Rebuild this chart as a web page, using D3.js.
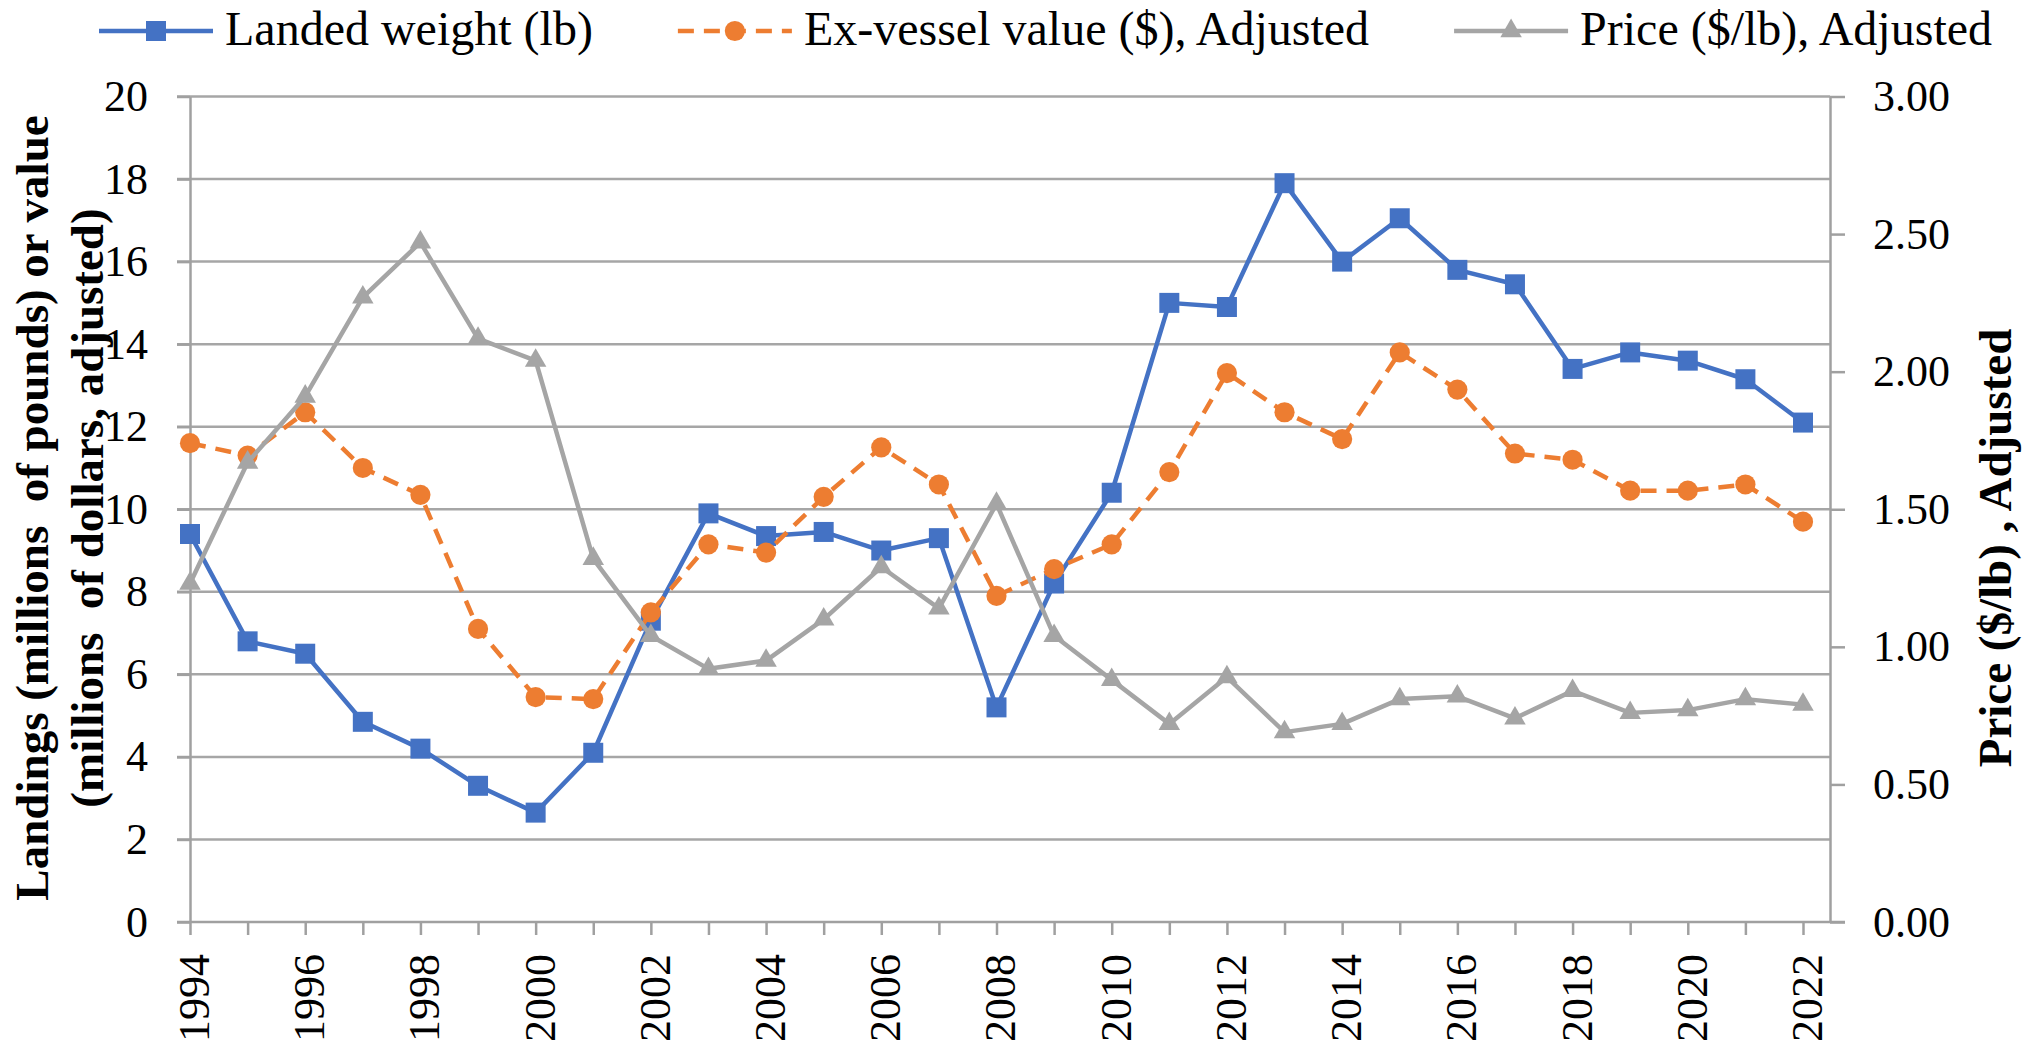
<!DOCTYPE html>
<html>
<head>
<meta charset="UTF-8">
<title>Landings, ex-vessel value and price</title>
<style>
html, body {
    margin: 0;
    padding: 0;
    background-color: #ffffff;
}
svg text {
    font-family: "Times New Roman", "Liberation Serif", serif;
    fill: #000;
}
.tick text {
    font-size: 44px;
}
.axis path, .axis line {
    stroke: #a0a0a0;
    stroke-width: 2.5;
}
.grid {
    stroke: #a6a6a6;
    stroke-width: 2.5;
}
.title {
    font-size: 47px;
    font-weight: bold;
    white-space: pre;
}
.legend text {
    font-size: 48px;
}
</style>
</head>
<body>
<svg id="chart" width="2035" height="1049"></svg>
<script src="https://cdn.jsdelivr.net/npm/d3@7/dist/d3.min.js"></script>
<script>
const years = [1994, 1995, 1996, 1997, 1998, 1999, 2000, 2001, 2002, 2003, 2004, 2005, 2006, 2007,
    2008, 2009, 2010, 2011, 2012, 2013, 2014, 2015, 2016, 2017, 2018, 2019, 2020, 2021, 2022];
const labelYears = [1994, 1996, 1998, 2000, 2002, 2004, 2006, 2008, 2010, 2012, 2014, 2016, 2018, 2020, 2022];

// millions of lb
const landed = [9.4, 6.8, 6.5, 4.85, 4.2, 3.3, 2.65, 4.1, 7.3, 9.9, 9.35, 9.45, 9.0, 9.3,
    5.2, 8.2, 10.4, 15.0, 14.9, 17.9, 16.0, 17.05, 15.8, 15.45, 13.4, 13.8, 13.6, 13.15, 12.1];
// millions of dollars, adjusted
const exValue = [11.6, 11.3, 12.35, 11.0, 10.35, 7.1, 5.45, 5.4, 7.5, 9.15, 8.95, 10.3, 11.5, 10.6,
    7.9, 8.55, 9.15, 10.9, 13.3, 12.35, 11.7, 13.8, 12.9, 11.35, 11.2, 10.45, 10.45, 10.6, 9.7];
// $/lb, adjusted (right axis)
const price = [1.23, 1.67, 1.91, 2.27, 2.47, 2.12, 2.04, 1.32, 1.04, 0.92, 0.95, 1.10, 1.29, 1.14,
    1.52, 1.04, 0.88, 0.72, 0.89, 0.69, 0.72, 0.81, 0.82, 0.74, 0.84, 0.76, 0.77, 0.81, 0.79];

const leftTicks = [0, 2, 4, 6, 8, 10, 12, 14, 16, 18, 20];
const rightTicks = [0, 0.5, 1, 1.5, 2, 2.5, 3];

const svg = d3.select('#chart');

let plotLeft = 190, plotRight = 1830, plotTop = 96.5, plotBottom = 922;

let x = d3.scaleLinear().domain([1994, 2022]).range([plotLeft, 1803]);
let yL = d3.scaleLinear().domain([0, 20]).range([plotBottom, plotTop]);
let yR = d3.scaleLinear().domain([0, 3]).range([plotBottom, plotTop]);

// gridlines
svg.append('g')
    .selectAll('line')
    .data(leftTicks.filter(d => d > 0))
    .join('line')
    .attr('class', 'grid')
    .attr('x1', plotLeft - 13)
    .attr('x2', plotRight)
    .attr('y1', d => yL(d))
    .attr('y2', d => yL(d));

// left axis
svg.append('g')
    .attr('class', 'axis')
    .attr('transform', `translate(${plotLeft},0)`)
    .call(d3.axisLeft(yL).tickValues(leftTicks).tickSize(13).tickSizeOuter(0).tickPadding(29));

// right axis
svg.append('g')
    .attr('class', 'axis')
    .attr('transform', `translate(${plotRight},0)`)
    .call(d3.axisRight(yR).tickValues(rightTicks).tickSize(15).tickSizeOuter(0).tickPadding(28)
        .tickFormat(d3.format('.2f')));

// bottom axis
let xAxis = svg.append('g')
    .attr('class', 'axis')
    .attr('transform', `translate(0,${plotBottom})`)
    .call(d3.axisBottom(x).tickValues(years).tickSize(13).tickSizeOuter(0)
        .tickFormat(d => labelYears.includes(d) ? d : ''));
xAxis.select('.domain').remove();
xAxis.append('line')
    .attr('x1', plotLeft - 13)
    .attr('x2', plotRight + 15)
    .attr('y1', 0)
    .attr('y2', 0);
xAxis.selectAll('.tick text')
    .attr('transform', 'rotate(-90)')
    .attr('x', -32)
    .attr('y', 0)
    .attr('dy', '0.42em')
    .attr('text-anchor', 'end');

// axis titles
svg.append('text')
    .attr('class', 'title')
    .attr('transform', 'translate(48,508) rotate(-90)')
    .attr('text-anchor', 'middle')
    .text('Landings (millions  of pounds) or value');
svg.append('text')
    .attr('class', 'title')
    .attr('transform', 'translate(103,508) rotate(-90)')
    .attr('text-anchor', 'middle')
    .text('(millions  of dollars, adjusted)');
svg.append('text')
    .attr('class', 'title')
    .attr('transform', 'translate(2011,548) rotate(-90)')
    .attr('text-anchor', 'middle')
    .text('Price ($/lb) , Adjusted');

// series
const series = [
    {name: 'Landed weight (lb)', values: landed, y: yL, color: '#4472C4', dash: null, sym: d3.symbolSquare, size: 400},
    {name: 'Ex-vessel value ($), Adjusted', values: exValue, y: yL, color: '#ED7D31', dash: '16,10', sym: d3.symbolCircle, size: 320},
    {name: 'Price ($/lb), Adjusted', values: price, y: yR, color: '#A5A5A5', dash: null, sym: d3.symbolTriangle, size: 200}
];

series.forEach(s => {
    let line = d3.line()
        .x((d, i) => x(years[i]))
        .y(d => s.y(d));
    let g = svg.append('g');
    g.append('path')
        .attr('d', line(s.values))
        .attr('fill', 'none')
        .attr('stroke', s.color)
        .attr('stroke-width', 4.5)
        .attr('stroke-dasharray', s.dash)
        .attr('stroke-linejoin', 'round');
    g.selectAll('path.mark')
        .data(s.values)
        .join('path')
        .attr('class', 'mark')
        .attr('d', d3.symbol(s.sym, s.size))
        .attr('transform', (d, i) => `translate(${x(years[i])},${s.y(d)})`)
        .attr('fill', s.color);
});

// legend
let legend = svg.append('g').attr('class', 'legend');
let lx = 99;
series.forEach(s => {
    let g = legend.append('g').attr('transform', `translate(${lx},0)`);
    g.append('line')
        .attr('x1', 0)
        .attr('x2', 114)
        .attr('y1', 31)
        .attr('y2', 31)
        .attr('stroke', s.color)
        .attr('stroke-width', 4.5)
        .attr('stroke-dasharray', s.dash);
    g.append('path')
        .attr('d', d3.symbol(s.sym, s.size))
        .attr('transform', 'translate(57,31)')
        .attr('fill', s.color);
    let t = g.append('text')
        .attr('x', 126)
        .attr('y', 45)
        .text(s.name);
    lx += 126 + t.node().getComputedTextLength() + 85;
});
</script>
</body>
</html>
